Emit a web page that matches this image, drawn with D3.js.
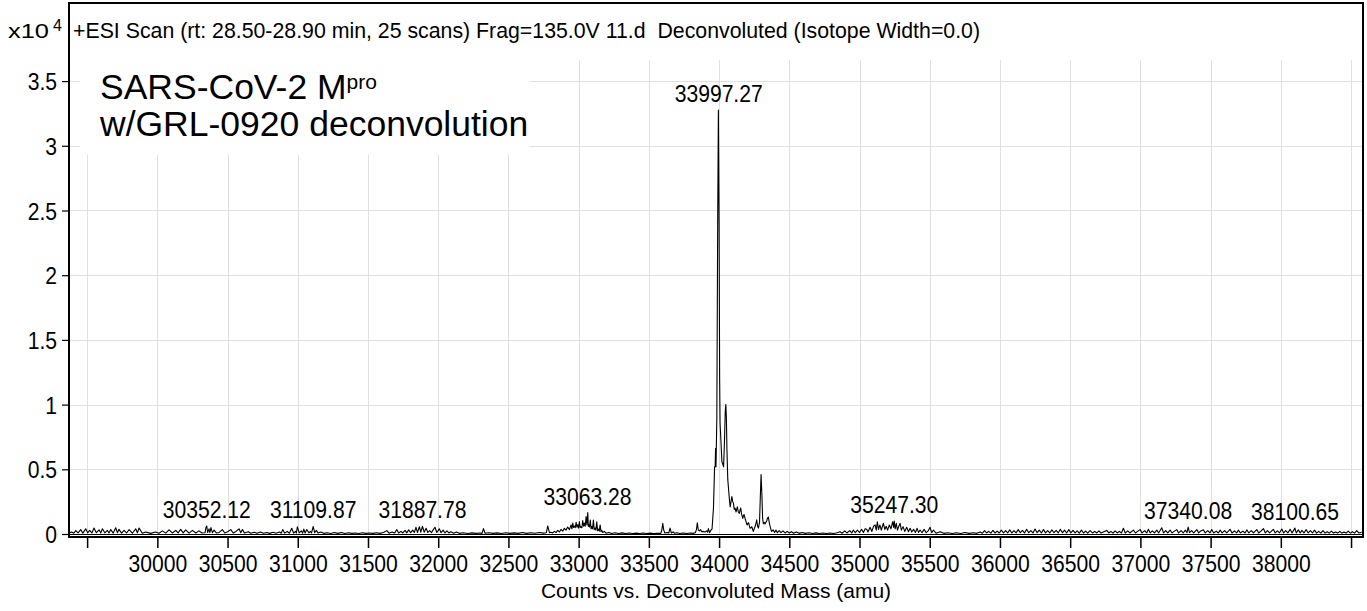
<!DOCTYPE html>
<html>
<head>
<meta charset="utf-8">
<script src="https://cdn.jsdelivr.net/npm/d3@7/dist/d3.min.js"></script>
<style>
  html, body { margin: 0; padding: 0; background: #fff; }
  svg { display: block; }
  text { font-family: "Liberation Sans", Arial, Helvetica, sans-serif; fill: #000; }
</style>
</head>
<body>
<svg id="chart" width="1367" height="611"></svg>
<script>
// ---------------- data ----------------
const headerText = "+ESI Scan (rt: 28.50-28.90 min, 25 scans) Frag=135.0V 11.d  Deconvoluted (Isotope Width=0.0)";
const sampleTitle = ["SARS-CoV-2 M", "pro", "w/GRL-0920 deconvolution"];
const xAxisTitle = "Counts vs. Deconvoluted Mass (amu)";
const yExponentBase = "x10";
const yExponent = "4";

const xTickValues = [29500, 30000, 30500, 31000, 31500, 32000, 32500, 33000, 33500, 34000, 34500, 35000, 35500, 36000, 36500, 37000, 37500, 38000, 38500];
const xTickLabels = ["", "30000", "30500", "31000", "31500", "32000", "32500", "33000", "33500", "34000", "34500", "35000", "35500", "36000", "36500", "37000", "37500", "38000", ""];
const yTickValues = [0, 0.5, 1, 1.5, 2, 2.5, 3, 3.5];
const yTickLabels = ["0", "0.5", "1", "1.5", "2", "2.5", "3", "3.5"];

// labelled peaks: deconvoluted mass (amu) and apex height (x10^4 counts)
const peakMasses = [30352.12, 31109.87, 31887.78, 33063.28, 33997.27, 35247.30, 37340.08, 38100.65];
const peakHeights = [0.062, 0.058, 0.060, 0.165, 3.277, 0.100, 0.054, 0.046];

// spectrum: [mass (amu), counts (x10^4)]
const spectrum = [
[29372,0.008],[29390,0.015],[29405,0.006],[29419,0.026],[29436,0.008],[29454,0.034],[29470,0.007],[29490,0.040],
[29504,0.009],[29518,0.028],[29534,0.008],[29549,0.046],[29566,0.010],[29585,0.032],[29597,0.008],[29609,0.040],
[29626,0.009],[29644,0.028],[29656,0.008],[29668,0.034],[29686,0.007],[29704,0.048],[29716,0.010],[29727,0.036],
[29745,0.007],[29763,0.028],[29781,0.008],[29799,0.034],[29822,0.006],[29846,0.040],[29858,0.009],[29870,0.046],
[29893,0.006],[29917,0.016],[29952,0.005],[29988,0.016],[30012,0.006],[30036,0.024],[30060,0.007],[30083,0.032],
[30107,0.008],[30131,0.028],[30148,0.008],[30166,0.036],[30184,0.009],[30202,0.032],[30226,0.007],[30250,0.028],
[30274,0.008],[30297,0.024],[30318,0.008],[30340,0.010],[30346,0.050],[30352,0.062],[30358,0.012],[30368,0.040],
[30374,0.010],[30382,0.050],[30392,0.010],[30404,0.030],[30420,0.008],[30440,0.012],[30463,0.034],[30480,0.008],
[30500,0.018],[30523,0.034],[30540,0.008],[30560,0.020],[30582,0.040],[30594,0.010],[30606,0.034],[30620,0.008],
[30648,0.018],[30665,0.006],[30690,0.014],[30710,0.005],[30735,0.016],[30755,0.006],[30780,0.012],[30800,0.005],
[30825,0.014],[30845,0.006],[30870,0.016],[30882,0.006],[30893,0.034],[30906,0.007],[30925,0.020],[30940,0.006],
[30957,0.044],[30970,0.008],[30984,0.020],[30990,0.008],[30997,0.056],[31010,0.008],[31025,0.024],[31035,0.007],
[31043,0.038],[31052,0.008],[31064,0.034],[31080,0.009],[31090,0.020],[31098,0.008],[31110,0.058],[31120,0.010],
[31132,0.028],[31145,0.007],[31165,0.015],[31185,0.005],[31210,0.010],[31235,0.004],[31260,0.011],[31285,0.005],
[31310,0.012],[31335,0.004],[31360,0.010],[31385,0.005],[31410,0.008],[31435,0.004],[31460,0.010],[31485,0.005],
[31510,0.008],[31535,0.005],[31560,0.010],[31585,0.005],[31610,0.012],[31634,0.026],[31650,0.006],[31672,0.016],
[31690,0.008],[31705,0.034],[31718,0.008],[31735,0.020],[31748,0.008],[31764,0.028],[31776,0.009],[31790,0.032],
[31804,0.010],[31818,0.030],[31830,0.012],[31842,0.052],[31852,0.012],[31866,0.056],[31876,0.014],[31888,0.060],
[31900,0.014],[31914,0.044],[31926,0.012],[31940,0.026],[31952,0.010],[31965,0.034],[31977,0.052],[31990,0.012],
[32008,0.040],[32020,0.010],[32035,0.030],[32048,0.008],[32062,0.024],[32076,0.008],[32090,0.018],[32110,0.006],
[32130,0.016],[32150,0.005],[32180,0.010],[32210,0.004],[32240,0.009],[32270,0.005],[32300,0.008],[32312,0.005],
[32322,0.042],[32334,0.006],[32360,0.010],[32390,0.005],[32420,0.009],[32450,0.004],[32480,0.010],[32510,0.005],
[32540,0.009],[32570,0.005],[32600,0.011],[32630,0.005],[32660,0.010],[32690,0.006],[32720,0.012],[32750,0.007],
[32770,0.010],[32780,0.062],[32792,0.010],[32803,0.014],[32815,0.008],[32827,0.020],[32840,0.012],[32851,0.028],
[32863,0.016],[32875,0.036],[32887,0.022],[32898,0.044],[32910,0.030],[32922,0.054],[32934,0.034],[32946,0.070],
[32952,0.040],[32958,0.084],[32964,0.050],[32970,0.062],[32976,0.048],[32982,0.090],[32988,0.052],[32994,0.072],
[33000,0.045],[33005,0.096],[33011,0.050],[33017,0.056],[33023,0.048],[33029,0.104],[33035,0.060],[33041,0.084],
[33047,0.060],[33053,0.134],[33059,0.070],[33065,0.165],[33069,0.060],[33072,0.072],[33077,0.054],[33083,0.108],
[33088,0.040],[33093,0.058],[33099,0.040],[33105,0.108],[33111,0.034],[33117,0.046],[33123,0.030],[33129,0.094],
[33135,0.026],[33141,0.038],[33147,0.022],[33153,0.070],[33159,0.018],[33165,0.028],[33172,0.012],[33183,0.020],
[33195,0.006],[33215,0.012],[33235,0.004],[33260,0.010],[33285,0.004],[33310,0.009],[33335,0.004],[33360,0.008],
[33385,0.004],[33410,0.007],[33435,0.004],[33460,0.008],[33485,0.004],[33510,0.007],[33535,0.004],[33560,0.006],
[33585,0.005],[33592,0.030],[33599,0.083],[33606,0.030],[33614,0.008],[33630,0.012],[33642,0.008],[33651,0.046],
[33660,0.008],[33672,0.016],[33684,0.006],[33700,0.010],[33720,0.004],[33745,0.008],[33770,0.004],[33795,0.008],
[33815,0.005],[33830,0.010],[33838,0.030],[33845,0.087],[33852,0.030],[33860,0.024],[33868,0.034],[33876,0.018],
[33888,0.020],[33900,0.016],[33912,0.024],[33918,0.014],[33924,0.042],[33932,0.010],[33942,0.030],[33950,0.040],
[33960,0.200],[33968,0.520],[33972,0.520],[33975,0.660],[33978,0.520],[33984,0.900],[33990,2.400],[33995,3.277],
[34000,2.400],[34004,1.200],[34007,0.860],[34014,0.700],[34020,0.560],[34026,0.540],[34032,0.520],[34038,0.700],
[34044,0.950],[34048,1.000],[34052,0.900],[34056,0.650],[34062,0.420],[34068,0.340],[34074,0.260],[34079,0.210],
[34085,0.250],[34091,0.290],[34097,0.250],[34102,0.240],[34108,0.190],[34114,0.200],[34121,0.170],[34125,0.190],
[34130,0.210],[34137,0.170],[34144,0.160],[34149,0.185],[34154,0.200],[34161,0.150],[34169,0.120],[34173,0.140],
[34178,0.150],[34185,0.120],[34192,0.095],[34197,0.075],[34201,0.070],[34206,0.085],[34211,0.087],[34216,0.060],
[34221,0.044],[34227,0.050],[34233,0.056],[34239,0.035],[34244,0.020],[34250,0.040],[34256,0.056],[34262,0.080],
[34268,0.110],[34274,0.060],[34280,0.046],[34288,0.090],[34294,0.300],[34299,0.460],[34305,0.300],[34310,0.120],
[34315,0.080],[34321,0.090],[34327,0.077],[34333,0.090],[34339,0.100],[34345,0.125],[34351,0.130],[34357,0.090],
[34363,0.060],[34369,0.035],[34375,0.020],[34385,0.032],[34395,0.012],[34405,0.030],[34415,0.010],[34428,0.026],
[34440,0.010],[34455,0.024],[34470,0.008],[34485,0.020],[34500,0.008],[34515,0.018],[34530,0.006],[34550,0.016],
[34570,0.005],[34590,0.012],[34615,0.005],[34640,0.010],[34665,0.004],[34690,0.009],[34715,0.004],[34740,0.008],
[34765,0.004],[34790,0.008],[34815,0.004],[34840,0.010],[34861,0.018],[34875,0.006],[34895,0.024],[34910,0.008],
[34930,0.026],[34945,0.008],[34956,0.031],[34970,0.010],[34985,0.030],[35000,0.012],[35015,0.036],[35028,0.012],
[35040,0.040],[35051,0.036],[35060,0.015],[35075,0.052],[35088,0.020],[35100,0.060],[35111,0.070],[35119,0.030],
[35127,0.095],[35135,0.035],[35145,0.070],[35155,0.030],[35170,0.083],[35180,0.035],[35190,0.060],[35200,0.030],
[35212,0.070],[35224,0.040],[35236,0.095],[35243,0.050],[35247,0.100],[35254,0.040],[35262,0.083],[35270,0.030],
[35280,0.060],[35289,0.083],[35298,0.030],[35310,0.057],[35322,0.020],[35336,0.052],[35348,0.018],[35360,0.044],
[35372,0.015],[35385,0.036],[35398,0.012],[35410,0.044],[35420,0.012],[35431,0.031],[35445,0.010],[35460,0.036],
[35475,0.010],[35490,0.026],[35502,0.052],[35514,0.010],[35526,0.031],[35545,0.006],[35574,0.018],[35600,0.005],
[35630,0.010],[35660,0.004],[35690,0.010],[35720,0.004],[35750,0.012],[35780,0.005],[35810,0.010],[35835,0.005],
[35859,0.016],[35875,0.006],[35890,0.026],[35905,0.008],[35920,0.020],[35935,0.007],[35950,0.028],[35965,0.008],
[35980,0.022],[35995,0.008],[36010,0.030],[36025,0.008],[36040,0.026],[36055,0.009],[36070,0.032],[36085,0.008],
[36100,0.026],[36115,0.009],[36130,0.034],[36145,0.010],[36160,0.028],[36175,0.008],[36190,0.036],[36205,0.010],
[36220,0.026],[36235,0.008],[36250,0.038],[36265,0.010],[36280,0.030],[36295,0.008],[36310,0.034],[36325,0.009],
[36340,0.026],[36355,0.008],[36370,0.032],[36385,0.010],[36400,0.028],[36415,0.008],[36430,0.036],[36445,0.010],
[36460,0.030],[36475,0.008],[36490,0.034],[36505,0.009],[36520,0.028],[36535,0.008],[36550,0.024],[36565,0.007],
[36580,0.030],[36595,0.008],[36610,0.022],[36625,0.007],[36642,0.026],[36660,0.008],[36675,0.020],[36690,0.008],
[36705,0.024],[36720,0.007],[36740,0.018],[36760,0.028],[36775,0.008],[36790,0.020],[36805,0.007],[36820,0.024],
[36835,0.008],[36850,0.020],[36865,0.008],[36879,0.044],[36892,0.008],[36910,0.024],[36925,0.008],[36950,0.030],
[36965,0.008],[36980,0.020],[36998,0.034],[37012,0.008],[37030,0.026],[37045,0.008],[37057,0.036],[37070,0.008],
[37085,0.024],[37100,0.008],[37117,0.030],[37130,0.008],[37152,0.048],[37165,0.008],[37180,0.026],[37195,0.008],
[37212,0.030],[37225,0.008],[37240,0.020],[37259,0.034],[37272,0.008],[37290,0.026],[37305,0.008],[37320,0.030],
[37332,0.010],[37340,0.054],[37350,0.010],[37365,0.026],[37380,0.008],[37402,0.034],[37415,0.008],[37430,0.024],
[37449,0.032],[37462,0.008],[37480,0.026],[37495,0.008],[37508,0.034],[37522,0.008],[37540,0.022],[37555,0.008],
[37568,0.030],[37582,0.008],[37600,0.026],[37615,0.008],[37639,0.036],[37652,0.008],[37670,0.024],[37685,0.008],
[37698,0.030],[37712,0.008],[37730,0.022],[37745,0.008],[37758,0.032],[37772,0.008],[37790,0.026],[37805,0.008],
[37829,0.034],[37842,0.008],[37860,0.024],[37876,0.042],[37890,0.008],[37905,0.026],[37920,0.008],[37947,0.036],
[37960,0.008],[37975,0.024],[37990,0.008],[38007,0.038],[38020,0.008],[38035,0.026],[38050,0.008],[38066,0.036],
[38080,0.008],[38092,0.030],[38100,0.046],[38110,0.008],[38125,0.032],[38138,0.008],[38150,0.028],[38165,0.008],
[38180,0.034],[38195,0.008],[38210,0.026],[38225,0.008],[38240,0.030],[38255,0.007],[38270,0.020],[38285,0.007],
[38300,0.026],[38315,0.007],[38330,0.018],[38345,0.007],[38360,0.022],[38375,0.007],[38390,0.016],[38405,0.007],
[38420,0.020],[38435,0.007],[38450,0.016],[38465,0.007],[38480,0.022],[38495,0.007],[38510,0.018],[38525,0.007],
[38540,0.026],[38555,0.008],[38575,0.014]
];

// ---------------- layout ----------------
const svg = d3.select("#chart");
const W = 1367, H = 611;
const plot = { left: 69, right: 1363, top: 3, bottom: 537 };
const dataTop = 60, zeroY = 534;
const condense = 0.88;       // narrow glyphs of the original labels
const tickFont = 24;

svg.append("rect").attr("width", W).attr("height", H).attr("fill", "#fff");

const x = d3.scaleLinear().domain([29371, 38578]).range([plot.left, 1362]);
const y = d3.scaleLinear().domain([0, 3.663]).range([zeroY, dataTop]);

// grid
const grid = svg.append("g").attr("stroke", "#e0e0e0").attr("stroke-width", 1);
grid.selectAll("line.v").data(xTickValues).join("line").attr("class", "v")
  .attr("x1", d => Math.round(x(d)) + 0.5).attr("x2", d => Math.round(x(d)) + 0.5)
  .attr("y1", dataTop).attr("y2", zeroY);
grid.selectAll("line.h").data(yTickValues).join("line").attr("class", "h")
  .attr("x1", plot.left).attr("x2", plot.right)
  .attr("y1", d => Math.round(y(d)) + 0.5).attr("y2", d => Math.round(y(d)) + 0.5);

// sample title box (covers grid)
svg.append("rect").attr("x", 80).attr("y", 56).attr("width", 450).attr("height", 99).attr("fill", "#fff");

// zero line
svg.append("line").attr("x1", plot.left).attr("x2", plot.right)
  .attr("y1", zeroY + 0.5).attr("y2", zeroY + 0.5).attr("stroke", "#000").attr("stroke-width", 1);

// spectrum
const line = d3.line().x(d => x(d[0])).y(d => y(d[1]));
svg.append("path").datum(spectrum).attr("d", line)
  .attr("fill", "none").attr("stroke", "#000").attr("stroke-width", 1.1).attr("stroke-linejoin", "round");

// frame
svg.append("rect").attr("x", plot.left).attr("y", plot.top)
  .attr("width", plot.right - plot.left).attr("height", plot.bottom - plot.top)
  .attr("fill", "none").attr("stroke", "#000").attr("stroke-width", 2);

// x axis
const xAxis = d3.axisBottom(x).tickValues(xTickValues)
  .tickFormat((d, i) => xTickLabels[i]).tickSize(10).tickSizeOuter(0);
const gx = svg.append("g").attr("transform", `translate(0,${plot.bottom + 1})`).call(xAxis);
gx.select(".domain").remove();
gx.selectAll(".tick line").attr("stroke", "#000").attr("stroke-width", 1.5);
gx.selectAll(".tick text").attr("y", 34).attr("dy", 0)
  .attr("font-size", tickFont).attr("font-family", null)
  .attr("transform", `scale(${condense},1)`);

// y axis
const yAxis = d3.axisLeft(y).tickValues(yTickValues)
  .tickFormat((d, i) => yTickLabels[i]).tickSize(7).tickSizeOuter(0);
const gy = svg.append("g").attr("transform", `translate(${plot.left},0)`).call(yAxis);
gy.select(".domain").remove();
gy.selectAll(".tick line").attr("stroke", "#000").attr("stroke-width", 1.2);
gy.selectAll(".tick text").attr("x", -12 / condense).attr("dy", "0.36em")
  .attr("font-size", tickFont).attr("font-family", null)
  .attr("transform", `scale(${condense},1)`);

// exponent
svg.append("text").attr("x", 8).attr("y", 38).attr("font-size", 21)
  .attr("textLength", 41).attr("lengthAdjust", "spacingAndGlyphs").text(yExponentBase);
svg.append("text").attr("x", 53).attr("y", 31).attr("font-size", 16).text(yExponent);

// header
svg.append("text").attr("x", 73).attr("y", 38).attr("font-size", 21.3)
  .style("white-space", "pre").text(headerText);

// sample title
const t1 = svg.append("text").attr("x", 100).attr("y", 99).attr("font-size", 35.5);
t1.append("tspan").text(sampleTitle[0]);
t1.append("tspan").attr("dy", -10).attr("font-size", 21).text(sampleTitle[1]);
svg.append("text").attr("x", 100).attr("y", 136).attr("font-size", 35.5).text(sampleTitle[2]);

// peak labels
svg.append("g").selectAll("text").data(peakMasses).join("text")
  .attr("transform", (d, i) => `translate(${x(d)},${y(peakHeights[i]) - 8}) scale(${condense},1)`)
  .attr("text-anchor", "middle").attr("font-size", tickFont)
  .text(d => d3.format(".2f")(d));

// x axis title
svg.append("text").attr("x", 716).attr("y", 598).attr("text-anchor", "middle")
  .attr("font-size", 21).text(xAxisTitle);
</script>
</body>
</html>
